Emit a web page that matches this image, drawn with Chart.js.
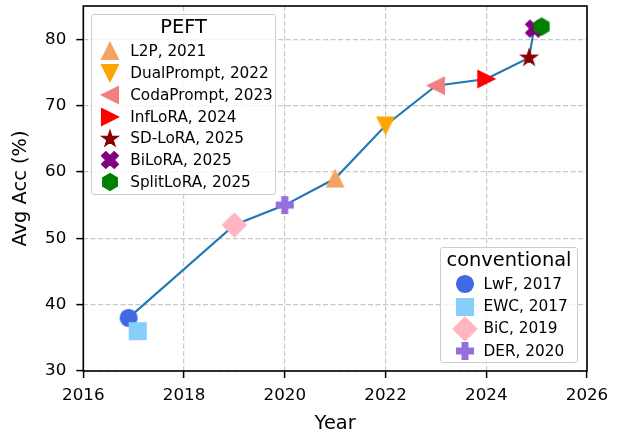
<!DOCTYPE html>
<html>
<head>
<meta charset="utf-8">
<script src="https://cdn.jsdelivr.net/npm/chart.js@4"></script>
<style>
  html, body { margin:0; padding:0; background:#fff; }
  #wrap { position:relative; width:618px; height:434px; overflow:hidden; }
  #chart { position:absolute; left:0; top:0; }
  .lg-box { position:absolute; box-sizing:border-box; border:1.4px solid #cccccc; border-radius:3px; background:rgba(255,255,255,0.8); }
  .lg-txt { position:absolute; white-space:nowrap; font-family:'DejaVu Sans', sans-serif; line-height:1; color:#000; }
  .lg-mk { position:absolute; }
</style>
</head>
<body>
<div id="wrap">
  <canvas id="chart" width="618" height="434"></canvas>
</div>
<script>
// ---- data ----
const methods   = ['LwF','EWC','BiC','DER','L2P','DualPrompt','CodaPrompt','InfLoRA','SD-LoRA','BiLoRA','SplitLoRA'];
const pubYears  = [2017, 2017, 2019, 2020, 2021, 2022, 2023, 2024, 2025, 2025, 2025];
const plotYears = [2016.9, 2017.08, 2019, 2020, 2021, 2022, 2023, 2024, 2024.85, 2024.95, 2025.1];
const avgAcc    = [38, 36, 52, 55, 59, 67, 73, 74, 77.2, 81.6, 81.9];
const family    = ['conventional','conventional','conventional','conventional','PEFT','PEFT','PEFT','PEFT','PEFT','PEFT','PEFT'];
const trendMethods = ['LwF','BiC','DER','L2P','DualPrompt','CodaPrompt','InfLoRA','SD-LoRA','BiLoRA','SplitLoRA'];
const xTicks = [2016, 2018, 2020, 2022, 2024, 2026];
const yTicks = [30, 40, 50, 60, 70, 80];

// ---- styles ----
const markerShapes = ['o','s','D','P','^','v','<','>','*','X','h'];
const markerColors = ['#4169e1','#87cefa','#ffb6c1','#9370db','#f4a460','#ffa500','#f08080','#ff0000','#8b0000','#800080','#008000'];
const MS = 16.7;
const FONT = "'DejaVu Sans', sans-serif";

function unitPath(shape) {
  const pts = [];
  const star = () => { for (let k = 0; k < 10; k++) { const a = Math.PI/2 + k*Math.PI/5; const r = k % 2 ? 0.5*0.381966 : 0.5; pts.push([r*Math.cos(a), r*Math.sin(a)]); } };
  const hex = () => { for (let k = 0; k < 6; k++) { const a = Math.PI/2 + k*Math.PI/3; pts.push([0.5*Math.cos(a), 0.5*Math.sin(a)]); } };
  switch (shape) {
    case 's': pts.push([-0.5,-0.5],[0.5,-0.5],[0.5,0.5],[-0.5,0.5]); break;
    case '^': pts.push([0,0.5],[-0.5,-0.5],[0.5,-0.5]); break;
    case 'v': pts.push([0,-0.5],[-0.5,0.5],[0.5,0.5]); break;
    case '<': pts.push([-0.5,0],[0.5,0.5],[0.5,-0.5]); break;
    case '>': pts.push([0.5,0],[-0.5,0.5],[-0.5,-0.5]); break;
    case 'D': pts.push([0,0.7071],[0.7071,0],[0,-0.7071],[-0.7071,0]); break;
    case 'P': [[-1,-3],[1,-3],[1,-1],[3,-1],[3,1],[1,1],[1,3],[-1,3],[-1,1],[-3,1],[-3,-1],[-1,-1]].forEach(p => pts.push([p[0]/6,p[1]/6])); break;
    case 'X': [[-1,-2],[0,-1],[1,-2],[2,-1],[1,0],[2,1],[1,2],[0,1],[-1,2],[-2,1],[-1,0],[-2,-1]].forEach(p => pts.push([p[0]/4,p[1]/4])); break;
    case '*': star(); break;
    case 'h': hex(); break;
  }
  return pts;
}

function makeMarker(shape, color) {
  const c = document.createElement('canvas');
  c.width = 32; c.height = 32;
  const g = c.getContext('2d');
  g.translate(16, 16);
  g.fillStyle = color; g.strokeStyle = color;
  g.lineWidth = 1.4; g.lineJoin = 'miter';
  g.beginPath();
  if (shape === 'o') {
    g.arc(0, 0, MS/2, 0, Math.PI*2);
  } else {
    unitPath(shape).forEach((p, i) => {
      const x = p[0]*MS, y = -p[1]*MS;
      if (i === 0) g.moveTo(x, y); else g.lineTo(x, y);
    });
    g.closePath();
  }
  g.fill(); g.stroke();
  return c;
}

const markerImgs = methods.map((m, i) => makeMarker(markerShapes[i], markerColors[i]));

const pointData = methods.map((m, i) => ({x: plotYears[i], y: avgAcc[i]}));
const trendData = trendMethods.map(m => { const i = methods.indexOf(m); return {x: plotYears[i], y: avgAcc[i]}; });

const framePlugin = {
  id: 'frame',
  afterDatasetsDraw(chart) {
    const {ctx, chartArea: a} = chart;
    ctx.save();
    ctx.strokeStyle = '#000';
    ctx.lineWidth = 1.6;
    ctx.strokeRect(a.left, a.top, a.right - a.left, a.bottom - a.top);
    ctx.restore();
  }
};

new Chart(document.getElementById('chart'), {
  type: 'scatter',
  data: {
    datasets: [
      {
        label: 'methods',
        data: pointData,
        pointStyle: (ctx) => markerImgs[ctx.dataIndex],
        pointRadius: 10,
        pointHoverRadius: 10,
        showLine: false,
        clip: false,
        order: 1
      },
      {
        label: 'trend',
        data: trendData,
        showLine: true,
        borderColor: '#1f77b4',
        borderWidth: 2.1,
        pointRadius: 0,
        tension: 0,
        fill: false,
        order: 2
      }
    ]
  },
  options: {
    responsive: false,
    animation: false,
    events: [],
    layout: { autoPadding: false, padding: { left: 0, top: 6, right: 31, bottom: 0 } },
    plugins: { legend: { display: false }, tooltip: { enabled: false } },
    scales: {
      x: {
        type: 'linear', min: 2016, max: 2026,
        afterBuildTicks: (s) => { s.ticks = xTicks.map(v => ({value: v})); },
        afterFit: (s) => { s.height = 63; s.paddingLeft = 0; s.paddingRight = 0; },
        ticks: { color: '#000', font: { family: FONT, size: 16.7 }, padding: 8, maxRotation: 0, autoSkip: false, callback: (v) => String(v) },
        grid: { color: '#c8c8c8', lineWidth: 1.2, drawTicks: true, tickLength: 7, tickWidth: 1.5, tickColor: '#000', tickBorderDash: [] },
        border: { display: false, dash: [5, 2.5] },
        title: { display: true, text: 'Year', color: '#000', font: { family: FONT, size: 19.4, lineHeight: 1 }, padding: { top: 0, bottom: 0 } }
      },
      y: {
        type: 'linear', min: 30, max: 85,
        afterBuildTicks: (s) => { s.ticks = yTicks.map(v => ({value: v})); },
        afterFit: (s) => { s.width = 83.3; s.paddingTop = 0; s.paddingBottom = 0; },
        ticks: { color: '#000', font: { family: FONT, size: 16.7 }, padding: 10, autoSkip: false, callback: (v) => String(v) },
        grid: { color: '#c8c8c8', lineWidth: 1.2, drawTicks: true, tickLength: 7, tickWidth: 1.5, tickColor: '#000', tickBorderDash: [] },
        border: { display: false, dash: [5, 2.5] },
        title: { display: true, text: 'Avg Acc (%)', color: '#000', font: { family: FONT, size: 19.4 }, padding: { top: 9.6, bottom: 0 } }
      }
    }
  },
  plugins: [framePlugin]
});

// ---- HTML legends ----
const wrap = document.getElementById('wrap');
function addText(text, x, baseline, size, center) {
  const d = document.createElement('div');
  d.className = 'lg-txt';
  d.textContent = text;
  d.style.fontSize = size + 'px';
  d.style.top = (baseline - 0.846*size) + 'px';
  d.style.left = x + 'px';
  if (center) d.style.transform = 'translateX(-50%)';
  wrap.appendChild(d);
}
function buildLegend(fam, L) {
  const box = document.createElement('div');
  box.className = 'lg-box';
  Object.assign(box.style, { left: L.left + 'px', top: L.top + 'px', width: L.w + 'px', height: L.h + 'px' });
  wrap.appendChild(box);
  addText(fam, L.titleX, L.titleBase, 19.4, true);
  let r = 0;
  methods.forEach((m, i) => {
    if (family[i] !== fam) return;
    const base = L.row0 + r*L.step;
    const mk = makeMarker(markerShapes[i], markerColors[i]);
    mk.className = 'lg-mk';
    mk.style.left = (L.mx - 16) + 'px';
    mk.style.top = (base + L.mdy - 16) + 'px';
    wrap.appendChild(mk);
    addText(m + ', ' + pubYears[i], L.tx, base, 15.3, false);
    r++;
  });
}
buildLegend('PEFT', { left: 91, top: 14, w: 185, h: 181, titleX: 183.5, titleBase: 33.3, row0: 56.7, step: 21.93, mx: 110, mdy: -5.9, tx: 130.2 });
buildLegend('conventional', { left: 440, top: 247.3, w: 137.7, h: 116, titleX: 509, titleBase: 266.7, row0: 290, step: 22.2, mx: 464.5, mdy: -5.7, tx: 483.5 });
</script>
</body>
</html>
